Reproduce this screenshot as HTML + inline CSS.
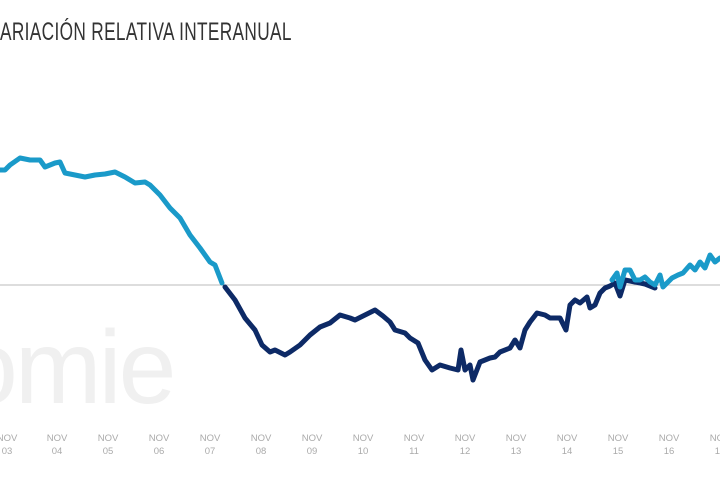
<!DOCTYPE html>
<html><head><meta charset="utf-8"><style>
html,body{margin:0;padding:0;background:#fff;width:720px;height:480px;overflow:hidden}
.t{position:absolute;left:0;top:18px;font-family:"Liberation Sans",sans-serif;font-size:25px;color:#333;transform:scaleX(0.69);transform-origin:0 0;white-space:nowrap;letter-spacing:0.5px}
</style></head><body>
<div class="t">ARIACIÓN RELATIVA INTERANUAL</div>
<svg width="720" height="480" style="position:absolute;left:0;top:0">
<text x="-40" y="403" font-family="Liberation Sans,sans-serif" font-size="104" fill="#f0f0f0" letter-spacing="-3">omie</text>
<line x1="0" y1="285" x2="720" y2="285" stroke="#bbb" stroke-width="1"/>
<g fill="none" stroke-width="5" stroke-linejoin="round" stroke-linecap="round">
<polyline stroke="#1a9ac9" points="0,170 5,170 10,165 20,158 30,160 40,160 45,167 55,163 60,162 65,173 75,175 85,177 95,175 105,174 115,172 125,177 135,183 145,182 150,185 160,195 170,208 180,218 190,235 200,248 210,262 215,265 222,283"/>
<polyline stroke="#0d2a66" points="225,287 235,300 245,318 255,330 262,345 270,352 275,350 285,355 290,352 300,345 310,335 320,327 330,323 340,315 350,318 355,320 365,315 375,310 383,316 390,322 395,330 405,333 410,338 418,343 425,360 432,370 440,365 450,368 458,370 461,350 465,370 470,365 473,380 480,362 490,358 495,357 500,352 510,348 515,340 520,348 525,330 530,322 537,313 545,315 550,318 560,318 566,330 570,305 575,300 580,303 587,297 590,308 595,305 600,293 605,288 610,286 615,283 620,296 625,280 635,282 645,284 655,288"/>
<polyline stroke="#1a9ac9" points="612,280 617,273 620,287 625,270 630,270 635,280 640,280 645,277 650,282 655,285 660,275 663,287 667,283 672,278 678,275 683,273 690,265 695,270 700,262 705,268 710,255 715,262 720,258"/>
</g>
<g font-family="Liberation Sans,sans-serif" font-size="9.5" fill="#aaa" text-anchor="middle">
<text x="7" y="441">NOV</text><text x="7" y="454">03</text>
<text x="57" y="441">NOV</text><text x="57" y="454">04</text>
<text x="108" y="441">NOV</text><text x="108" y="454">05</text>
<text x="159" y="441">NOV</text><text x="159" y="454">06</text>
<text x="210" y="441">NOV</text><text x="210" y="454">07</text>
<text x="261" y="441">NOV</text><text x="261" y="454">08</text>
<text x="312" y="441">NOV</text><text x="312" y="454">09</text>
<text x="363" y="441">NOV</text><text x="363" y="454">10</text>
<text x="414" y="441">NOV</text><text x="414" y="454">11</text>
<text x="465" y="441">NOV</text><text x="465" y="454">12</text>
<text x="516" y="441">NOV</text><text x="516" y="454">13</text>
<text x="567" y="441">NOV</text><text x="567" y="454">14</text>
<text x="618" y="441">NOV</text><text x="618" y="454">15</text>
<text x="669" y="441">NOV</text><text x="669" y="454">16</text>
<text x="720" y="441">NOV</text><text x="720" y="454">17</text>
</g>
</svg>
</body></html>
